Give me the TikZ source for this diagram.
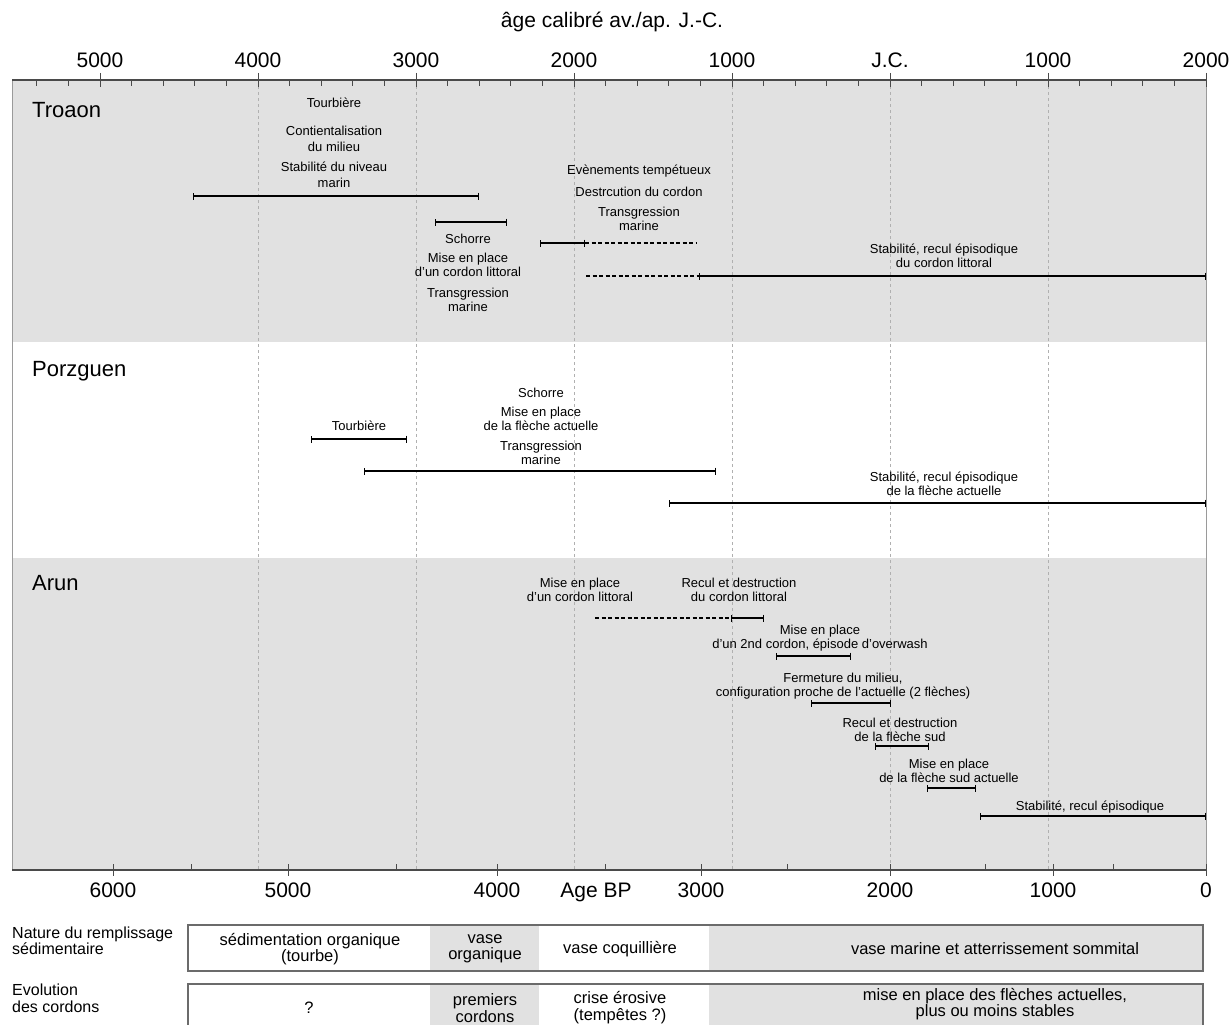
\documentclass[tikz,border=0pt]{standalone}
\usepackage{fontspec}
\setmainfont{Liberation Sans}
\usepackage{tikz}
\usetikzlibrary{arrows.meta,positioning}
\definecolor{bandGray}{HTML}{E1E1E1}
\definecolor{axisGray}{HTML}{4A4A4A}
\definecolor{gridGray}{HTML}{B0B0B0}
\definecolor{frameGray}{HTML}{9A9A9A}

\begin{document}
\begin{tikzpicture}[x=1pt,y=-1pt,
    evt/.style={font=\fontsize{13}{14}\selectfont,align=center,inner sep=0pt},
    site/.style={font=\fontsize{22}{24}\selectfont,anchor=west,inner sep=0pt},
    axnum/.style={font=\fontsize{21}{24}\selectfont,inner sep=0pt},
    cell/.style={font=\fontsize{16.5}{15.5}\selectfont,align=center,inner sep=0pt},
    rowlab/.style={font=\fontsize{16}{15}\selectfont,align=left,anchor=west,inner sep=0pt},
    phase/.style={line width=1.6pt,{Bar[width=7pt,line width=1.1pt]}-{Bar[width=7pt,line width=1.1pt]}},
    phasedash/.style={line width=1.6pt,dash pattern=on 4pt off 2.5pt},
    gridline/.style={gridGray,line width=0.6pt,dash pattern=on 3pt off 3pt},
    tick/.style={axisGray,line width=0.8pt},
    rowline/.style={draw=black!58,line width=1.3pt}]
    \useasboundingbox (0,0) rectangle (1232,1025);
    \fill[white] (0,0) rectangle (1232,1025);
    \fill[bandGray] (12,80) rectangle (1206,342);
    \fill[bandGray] (12,558) rectangle (1206,870);
    \foreach \yr in {-4000,-3000,-2000,-1000,0,1000}
      \draw[gridline] ({890+0.158*(\yr)},80) -- ({890+0.158*(\yr)},870);
    \draw[frameGray,line width=0.8pt] (12,80) -- (12,870);
    \draw[frameGray,line width=0.8pt] (1206,80) -- (1206,870);
    \draw[axisGray,line width=1.2pt] (12,80) -- (1206,80);
    \draw[axisGray,line width=1.2pt] (12,870) -- (1206,870);
    \foreach \yr in {-5400,-5200,...,1800}
      \draw[tick] ({890+0.158*(\yr)},80) -- ++(0,6);
    \foreach \yr/\lab [count=\i] in {-5000/5000,-4000/4000,-3000/3000,-2000/2000,-1000/1000,0/J.C.,1000/1000,2000/2000}{
      \draw[tick] ({890+0.158*(\yr)},73) -- ++(0,14);
      \node[axnum] (cal\i) at ({890+0.158*(\yr)},60) {\lab};
    }
    \foreach \xx in {191,396,605,787,985,1113}
      \draw[tick] (\xx,864) -- (\xx,870);
    \foreach \xx/\lab [count=\i] in {113/6000,288/5000,497/4000,701/3000,890/2000,1053/1000,1206/0}{
      \draw[tick] (\xx,864) -- (\xx,876);
      \node[axnum] (bp\i) at (\xx,890) {\lab};
    }
    \node[axnum] (calTitle) at (612,22) {âge calibré av./ap. J.-C.};
    \node[axnum] (bpTitle) at (596,892) {Age BP};

    \node[site] (troaon) at (32,110) {Troaon};
    \node[evt] (tourbTro) at (334,103) {Tourbière};
    \node[evt] (contTro) at (334,139) {Contientalisation\\[2pt]du milieu};
    \node[evt] (stabTro) at (334,175) {Stabilité du niveau\\[2pt]marin};
    \draw[phase] (193,196) -- (479,196);
    \draw[phase] (435,222) -- (507,222);
    \node[evt] (schTro) at (468,239) {Schorre};
    \node[evt] (cordTro) at (468,264.5) {Mise en place\\d'un cordon littoral};
    \node[evt] (transTro) at (468,299.5) {Transgression\\marine};
    \node[evt] (tempTro) at (639,171) {Evènements tempétueux};
    \node[evt] (destTro) at (639,192) {Destrcution du cordon};
    \node[evt] (trans2Tro) at (639,218.5) {Transgression\\marine};
    \draw[phase] (540,243) -- (585,243);
    \draw[phasedash] (585,243) -- (697,243);
    \draw[phasedash] (586,276) -- (699,276);
    \draw[phase] (699,276) -- (1206,276);
    \node[evt] (recTro) at (944,256) {Stabilité, recul épisodique\\du cordon littoral};

    \node[site] (porzguen) at (32,371) {Porzguen};
    \node[evt] (tourbPor) at (359,426) {Tourbière};
    \draw[phase] (311,439) -- (407,439);
    \node[evt] (schPor) at (541,393) {Schorre};
    \node[evt] (flechePor) at (541,418.5) {Mise en place\\de la flèche actuelle};
    \node[evt] (transPor) at (541,453) {Transgression\\marine};
    \draw[phase] (364,471) -- (716,471);
    \node[evt] (recPor) at (944,483.5) {Stabilité, recul épisodique\\de la flèche actuelle};
    \draw[phase] (669,503) -- (1206,503);

    \node[site] (arun) at (32,583) {Arun};
    \node[evt] (cordAru) at (580,589.5) {Mise en place\\d'un cordon littoral};
    \node[evt] (destAru) at (739,589.5) {Recul et destruction\\du cordon littoral};
    \draw[phasedash] (595,618) -- (731,618);
    \draw[phase] (731,618) -- (764,618);
    \node[evt] (cord2Aru) at (820,638.5) {Mise en place\\d'un 2nd cordon, épisode d'overwash};
    \draw[phase] (776,656) -- (851,656);
    \node[evt] (fermAru) at (843,686) {Fermeture du milieu,\\configuration proche de l'actuelle (2 flèches)};
    \draw[phase] (811,703) -- (891,703);
    \node[evt] (sudAru) at (900,729.5) {Recul et destruction\\de la flèche sud};
    \draw[phase] (875,746) -- (929,746);
    \node[evt] (sud2Aru) at (949,771) {Mise en place\\de la flèche sud actuelle};
    \draw[phase] (927,788) -- (976,788);
    \node[evt] (recAru) at (1090,807) {Stabilité, recul épisodique};
    \draw[phase] (980,816) -- (1206,816);

    \fill[bandGray] (430,925) rectangle (539,971);
    \fill[bandGray] (709,925) rectangle (1203,971);
    \draw[rowline] (188,925) rectangle (1203,971);
    \fill[bandGray] (430,984) rectangle (539,1025);
    \fill[bandGray] (709,984) rectangle (1203,1025);
    \draw[rowline] (188,1025) -- (188,984) -- (1203,984) -- (1203,1025);
    \node[rowlab] (natureLab) at (12,941) {Nature du remplissage\\sédimentaire};
    \node[rowlab] (cordonLab) at (12,998) {Evolution\\[2pt]des cordons};
    \node[cell] (sedCell) at (310,949) {sédimentation organique\\(tourbe)};
    \node[cell] (vaseCell) at (485,949) {vase\\organique};
    \node[cell] (coqCell) at (620,949) {vase coquillière};
    \node[cell] (marCell) at (995,949) {vase marine et atterrissement sommital};
    \node[cell] (qCell) at (309,1008) {?};
    \node[cell] (premCell) at (485,1008) {premiers\\[1.5pt]cordons};
    \node[cell] (criseCell) at (620,1008) {crise érosive\\[1.5pt](tempêtes ?)};
    \node[cell] (flecheCell) at (995,1004) {mise en place des flèches actuelles,\\plus ou moins stables};
\end{tikzpicture}
\end{document}
